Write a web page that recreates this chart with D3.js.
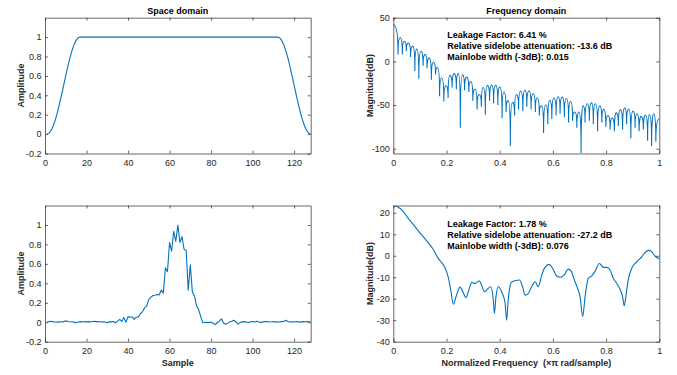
<!DOCTYPE html>
<html>
<head>
<meta charset="utf-8">
<script src="https://cdn.jsdelivr.net/npm/d3@7"></script>
<style>
  body { margin: 0; background: #fff; }
  svg { font-family: "Liberation Sans", Arial, Helvetica, sans-serif; }
  .ax path, .ax line { stroke: #262626; stroke-width: 0.7; }
  .ax text { fill: #262626; font-size: 9px; }
  .lbl { fill: #262626; font-size: 9px; font-weight: bold; white-space: pre; }
  .ttl { fill: #000; font-size: 9px; font-weight: bold; }
  .note { fill: #000; font-size: 9px; font-weight: bold; }
</style>
</head>
<body>
<div id="chart"></div>
<script>
// ---- data ----

// space domain, top: taper window, one value per sample (x = 1..128)
const spaceWindow = [
  0, 0.010, 0.039, 0.086, 0.149, 0.225, 0.313, 0.408, 0.506, 0.604, 0.699, 0.785, 0.860, 0.922, 0.966, 0.993,
  1, 1, 1, 1, 1, 1, 1, 1, 1, 1, 1, 1, 1, 1, 1, 1,
  1, 1, 1, 1, 1, 1, 1, 1, 1, 1, 1, 1, 1, 1, 1, 1,
  1, 1, 1, 1, 1, 1, 1, 1, 1, 1, 1, 1, 1, 1, 1, 1,
  1, 1, 1, 1, 1, 1, 1, 1, 1, 1, 1, 1, 1, 1, 1, 1,
  1, 1, 1, 1, 1, 1, 1, 1, 1, 1, 1, 1, 1, 1, 1, 1,
  1, 1, 1, 1, 1, 1, 1, 1, 1, 1, 1, 1, 1, 1, 1, 1,
  0.993, 0.966, 0.922, 0.860, 0.785, 0.699, 0.604, 0.506, 0.408, 0.313, 0.225, 0.149, 0.086, 0.039, 0.010, 0
];

// space domain, bottom: measured pulse (x = 1..128)
const spaceSignal = [
  0.003, 0.006, 0.010, 0.004, 0.002, 0.001, 0.004, 0.003, 0.006, 0.014,
  0.008, 0.005, 0.003, 0.001, -0.006, 0.002, 0.006, 0.003, 0.007, 0.004,
  0.006, 0.003, 0.008, 0.011, 0.004, 0.007, 0.002, 0.005, 0.003, -0.004,
  0.006, 0.004, 0.008, -0.006, 0.012, 0.030, 0.008, 0.048, 0.000, 0.058,
  0.052, 0.056, 0.030, 0.052, 0.055, 0.090, 0.110, 0.150, 0.165, 0.235,
  0.255, 0.275, 0.278, 0.285, 0.280, 0.330, 0.300, 0.560, 0.520, 0.820,
  0.730, 0.935, 0.830, 1.000, 0.820, 0.880, 0.750, 0.740, 0.330, 0.590,
  0.310, 0.270, 0.170, 0.130, 0.060, -0.005, -0.002, 0.000, -0.004, 0.002,
  -0.010, -0.025, -0.005, 0.012, 0.035, -0.008, -0.020, -0.012, 0.004, 0.010,
  0.020, 0.003, -0.020, -0.002, 0.004, 0.006, 0.002, -0.003, 0.005, 0.008,
  0.002, 0.010, 0.003, -0.004, 0.004, 0.007, 0.006, 0.003, 0.005, 0.008,
  0.001, 0.004, 0.003, 0.006, 0.008, 0.020, 0.008, 0.003, 0.005, 0.002,
  0.007, 0.004, 0.001, 0.006, 0.003, 0.008, 0.005, 0.004
];

// frequency domain, top: lobe tops and the nulls between them
const topPeakFreq = [
  0, 0.026, 0.041, 0.057, 0.073, 0.088, 0.104, 0.120, 0.135, 0.151,
  0.166, 0.182, 0.198, 0.213, 0.229, 0.245, 0.260, 0.276, 0.291, 0.307,
  0.323, 0.338, 0.354, 0.370, 0.385, 0.401, 0.416, 0.432, 0.448, 0.463,
  0.479, 0.495, 0.510, 0.526, 0.541, 0.557, 0.573, 0.588, 0.604, 0.620,
  0.635, 0.651, 0.666, 0.682, 0.698, 0.713, 0.729, 0.745, 0.760, 0.776,
  0.791, 0.807, 0.823, 0.838, 0.854, 0.870, 0.885, 0.901, 0.916, 0.932,
  0.948, 0.963, 0.979, 1.000
];
const topPeakDb = [
  42, 27, 23, 21, 17.5, 14, 11.5, 8, 4, -1,
  -7, -19, -28, -16, -14, -14, -15.5, -18, -23, -32,
  -38, -30, -27.5, -27, -27.5, -29.5, -35, -45, -47, -38,
  -34, -33, -34, -37, -42, -51, -50, -45, -42, -40.5,
  -41, -42.5, -46, -58, -58, -51, -48.5, -47.5, -48.5, -51,
  -55, -62, -65, -59, -55.5, -53.5, -54.5, -57, -60, -63,
  -61.5, -61, -60, -66
];
const topNullFreq = [
  0.018, 0.034, 0.049, 0.065, 0.081, 0.096, 0.112, 0.127, 0.143, 0.159,
  0.174, 0.190, 0.206, 0.221, 0.237, 0.252, 0.268, 0.284, 0.299, 0.315,
  0.331, 0.346, 0.362, 0.377, 0.393, 0.409, 0.424, 0.440, 0.456, 0.471,
  0.487, 0.502, 0.518, 0.534, 0.549, 0.565, 0.581, 0.596, 0.612, 0.627,
  0.643, 0.659, 0.674, 0.690, 0.706, 0.721, 0.737, 0.752, 0.768, 0.784,
  0.799, 0.815, 0.831, 0.846, 0.862, 0.877, 0.893, 0.909, 0.924, 0.940,
  0.956, 0.971, 0.987
];
const topNullDb = [
  8, 8, 12, 5, -11, -20, -5, -8, -21, -15,
  -40, -46, -42, -30, -32, -76, -33, -35, -45, -55,
  -52, -61, -45, -48, -50, -65, -58, -97, -62, -55,
  -57, -52, -55, -58, -62, -82, -72, -66, -62, -60,
  -64, -70, -68, -76, -105, -70, -68, -72, -80, -70,
  -75, -78, -80, -74, -78, -72, -88, -76, -80, -78,
  -91, -97, -92
];

// frequency domain, bottom: smooth spectrum of the pulse
const botFreq = [
  0, 0.019, 0.038, 0.056, 0.075, 0.094, 0.113, 0.132, 0.150, 0.169,
  0.182, 0.194, 0.207, 0.216, 0.226, 0.236, 0.251, 0.263, 0.273, 0.282,
  0.295, 0.307, 0.323, 0.332, 0.342, 0.353, 0.366, 0.376, 0.380, 0.386,
  0.395, 0.407, 0.420, 0.426, 0.432, 0.443, 0.457, 0.474, 0.486, 0.495,
  0.508, 0.520, 0.533, 0.545, 0.558, 0.570, 0.586, 0.599, 0.614, 0.629,
  0.642, 0.658, 0.668, 0.683, 0.693, 0.702, 0.712, 0.721, 0.733, 0.746,
  0.758, 0.775, 0.790, 0.802, 0.815, 0.827, 0.840, 0.855, 0.862, 0.868,
  0.875, 0.883, 0.896, 0.915, 0.934, 0.946, 0.959, 0.971, 0.984, 0.996,
  1.000
];
const botDb = [
  23.3, 22.6, 20.5, 17.4, 14.6, 11.6, 8.8, 6.0, 3.0, -1.2,
  -3.2, -5.5, -10.2, -16, -22.6, -19, -14.6, -17.2, -19.5, -16.7,
  -12.4, -12.9, -11.6, -13.6, -16.7, -15.6, -14.4, -20.6, -26.8, -19,
  -14.3, -16.7, -21.8, -30, -20.6, -12.5, -11.6, -11.3, -14.4, -18.3,
  -17.5, -14.4, -12.1, -14.4, -9, -5.4, -4, -5.9, -9.4, -10,
  -9, -6.2, -7, -12.1, -15.2, -19, -28.3, -19, -10.5, -9.4,
  -7.4, -3.6, -5.4, -5.4, -6.6, -10.5, -12.9, -16.3, -19, -23.3,
  -18.3, -11.3, -5.9, -2.8, -0.5, 1.4, 2.5, 1.9, -0.1, -1.2,
  -1.4
];

// tick labels
const sampleTicks = [0, 20, 40, 60, 80, 100, 120];
const ampTicks = [-0.2, 0, 0.2, 0.4, 0.6, 0.8, 1];
const freqTicks = [0, 0.2, 0.4, 0.6, 0.8, 1];
const dbTicksTop = [-100, -50, 0, 50];
const dbTicksBot = [-40, -30, -20, -10, 0, 10, 20];

const topNotes = ['Leakage Factor: 6.41 %', 'Relative sidelobe attenuation: -13.6 dB', 'Mainlobe width (-3dB): 0.015'];
const botNotes = ['Leakage Factor: 1.78 %', 'Relative sidelobe attenuation: -27.2 dB', 'Mainlobe width (-3dB): 0.076'];

// ---- layout ----
const W = 677, H = 375;
const colL = [45, 310.7], colR = [393.3, 659.3];
const rowT = [17.7, 153.5], rowB = [205.5, 341.7];
const blue = '#0072bd';
const fmt = d => String(d).replace('\u2212', '-');

const svg = d3.select('#chart').append('svg')
  .attr('width', W)
  .attr('height', H);
svg.append('rect').attr('width', W).attr('height', H).attr('fill', '#fff');

let clipId = 0;
function panel(xr, yr, xDomain, yDomain, xTicks, yTicks) {
  const x = d3.scaleLinear().domain(xDomain).range(xr);
  const y = d3.scaleLinear().domain(yDomain).range([yr[1], yr[0]]);
  const g = svg.append('g');
  const id = 'clip' + (clipId++);
  g.append('clipPath').attr('id', id)
    .append('rect')
    .attr('x', xr[0]).attr('y', yr[0])
    .attr('width', xr[1] - xr[0]).attr('height', yr[1] - yr[0]);
  const plot = g.append('g').attr('clip-path', `url(#${id})`);

  g.append('g').attr('class', 'ax').attr('transform', `translate(0,${yr[1]})`)
    .call(d3.axisBottom(x).tickValues(xTicks).tickFormat(fmt).tickSizeInner(-3).tickSizeOuter(0).tickPadding(6));
  g.append('g').attr('class', 'ax').attr('transform', `translate(0,${yr[0]})`)
    .call(d3.axisTop(x).tickValues(xTicks).tickFormat('').tickSizeInner(-3).tickSizeOuter(0));
  g.append('g').attr('class', 'ax').attr('transform', `translate(${xr[0]},0)`)
    .call(d3.axisLeft(y).tickValues(yTicks).tickFormat(fmt).tickSizeInner(-3).tickSizeOuter(0).tickPadding(3.5));
  g.append('g').attr('class', 'ax').attr('transform', `translate(${xr[1]},0)`)
    .call(d3.axisRight(y).tickValues(yTicks).tickFormat('').tickSizeInner(-3).tickSizeOuter(0));
  return { g, plot, x, y };
}

function yLabel(text, xPos, yr) {
  svg.append('text').attr('class', 'lbl')
    .attr('transform', `translate(${xPos},${(yr[0] + yr[1]) / 2}) rotate(-90)`)
    .attr('text-anchor', 'middle')
    .text(text);
}
function xLabel(text, xr, yPos) {
  svg.append('text').attr('class', 'lbl')
    .attr('x', (xr[0] + xr[1]) / 2).attr('y', yPos)
    .attr('text-anchor', 'middle')
    .text(text);
}
function title(text, xr) {
  svg.append('text').attr('class', 'ttl')
    .attr('x', (xr[0] + xr[1]) / 2).attr('y', 14.3)
    .attr('text-anchor', 'middle')
    .text(text);
}
function notes(lines, x0, y0) {
  svg.append('g').selectAll('text').data(lines).join('text')
    .attr('class', 'note')
    .attr('x', x0)
    .attr('y', (d, i) => y0 + i * 10.8)
    .text(d => d);
}

// top left: window
const p1 = panel(colL, rowT, [0, 128], [-0.2, 1.2], sampleTicks, ampTicks);
p1.plot.append('path')
  .datum(spaceWindow)
  .attr('fill', 'none').attr('stroke', blue).attr('stroke-width', 1.1)
  .attr('d', d3.line().x((d, i) => p1.x(i + 1)).y(d => p1.y(d)));
title('Space domain', colL);
yLabel('Amplitude', 23.5, rowT);

// bottom left: pulse
const p3 = panel(colL, rowB, [0, 128], [-0.2, 1.2], sampleTicks, ampTicks);
p3.plot.append('path')
  .datum(spaceSignal)
  .attr('fill', 'none').attr('stroke', blue).attr('stroke-width', 1.1)
  .attr('stroke-linejoin', 'round')
  .attr('d', d3.line().x((d, i) => p3.x(i + 1)).y(d => p3.y(d)));
yLabel('Amplitude', 23.5, rowB);
xLabel('Sample', colL, 365.5);

// top right: lobed spectrum
const p2 = panel(colR, rowT, [0, 1], [-105.5, 50], freqTicks, dbTicksTop);
{
  const pts = [];
  topPeakDb.forEach((db, i) => {
    pts.push({ x: p2.x(topPeakFreq[i]), y: p2.y(db), top: true });
    if (i < topNullDb.length) pts.push({ x: p2.x(topNullFreq[i]), y: p2.y(topNullDb[i]), top: false });
  });
  const path = d3.path();
  path.moveTo(pts[0].x, pts[0].y);
  for (let i = 1; i < pts.length; i++) {
    const a = pts[i - 1], b = pts[i];
    if (a.top) {
      // falling into a null: flat top, steep drop
      path.bezierCurveTo(a.x + 0.6 * (b.x - a.x), a.y, b.x, a.y + 0.35 * (b.y - a.y), b.x, b.y);
    } else {
      path.bezierCurveTo(a.x, b.y + 0.35 * (a.y - b.y), b.x - 0.6 * (b.x - a.x), b.y, b.x, b.y);
    }
  }
  p2.plot.append('path')
    .attr('d', path.toString())
    .attr('fill', 'none').attr('stroke', blue).attr('stroke-width', 1.1);
}
title('Frequency domain', colR);
yLabel('Magnitude(dB)', 372.5, rowT);
notes(topNotes, 447.3, 38.3);

// bottom right: smooth spectrum
const p4 = panel(colR, rowB, [0, 1], [-40, 23.4], freqTicks, dbTicksBot);
p4.plot.append('path')
  .datum(botFreq.map((f, i) => [f, botDb[i]]))
  .attr('fill', 'none').attr('stroke', blue).attr('stroke-width', 1.1)
  .attr('d', d3.line().curve(d3.curveMonotoneX).x(d => p4.x(d[0])).y(d => p4.y(d[1])));
yLabel('Magnitude(dB)', 372.5, rowB);
xLabel('Normalized Frequency  (\u00d7\u03c0 rad/sample)', colR, 365.5);
notes(botNotes, 447.3, 227);
</script>
</body>
</html>
